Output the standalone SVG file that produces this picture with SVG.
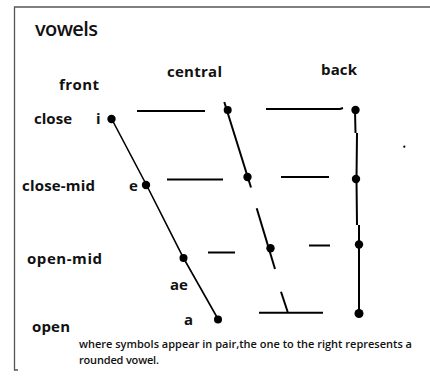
<svg xmlns="http://www.w3.org/2000/svg" width="430" height="376" viewBox="0 0 430 376">
<style>
text{font-family:"Open Sans","DejaVu Sans",sans-serif;fill:#111;}
.lbl{font-size:15px;font-weight:700;}
.sym{font-size:15px;font-weight:700;}
.note{font-size:11px;font-weight:600;}
.ln{stroke:#000;stroke-width:2;fill:none;stroke-linecap:butt;}
.thin{stroke:#000;stroke-width:1.6;fill:none;}
.dot{fill:#000;}
.frame{stroke:#555;stroke-width:1.3;fill:none;}
</style>
<rect width="430" height="376" fill="#fff"/>
<g id="frame">
<path class="frame" d="M430,7 H14.5 V370 H18"/>
</g>
<g id="titles">
<text x="35" y="36" style="font-size:20px;font-weight:600" textLength="63">vowels</text>
<text class="lbl" x="59" y="90" textLength="40">front</text>
<text class="lbl" x="167" y="77" textLength="55">central</text>
<text class="lbl" x="321" y="75" textLength="36">back</text>
<text class="lbl" x="34" y="124" textLength="38">close</text>
<text class="lbl" x="22" y="191" textLength="73">close-mid</text>
<text class="lbl" x="27" y="264" textLength="75">open-mid</text>
<text class="lbl" x="32" y="332" textLength="38">open</text>
<text class="sym" x="96" y="124">i</text>
<text class="sym" x="129" y="191">e</text>
<text class="sym" x="170" y="290">ae</text>
<text class="sym" x="184" y="325">a</text>
<text class="note" x="79" y="348" textLength="333">where symbols appear in pair,the one to the right represents a</text>
<text class="note" x="79" y="364" textLength="80">rounded vowel.</text>
</g>
<g id="connectors">
<path class="thin" d="M111.7,119 L146.5,185 L183.5,258 L218,319"/>
<path class="ln" d="M137,111 H205"/>
<path class="ln" d="M266,109 H340 L343,108"/>
<path class="ln" d="M167,179.5 H223"/>
<path class="ln" d="M281,177 H329"/>
<path class="ln" d="M208,252.5 H235"/>
<path class="ln" d="M309,245.5 H330"/>
<path class="ln" d="M259,312.7 H323"/>
<path class="ln" d="M224.3,102 L251,187.5"/>
<path class="ln" d="M256.7,208.3 L275,269"/>
<path class="ln" d="M281,291.7 L287.7,312"/>
<path class="ln" d="M355,110 L355.5,133 M357,133 L356.5,179 L357,225 M359,225 L359,313.5"/>
</g>
<g id="node-i"><circle class="dot" cx="111.5" cy="119" r="4.2"/></g>
<g id="node-e"><circle class="dot" cx="146" cy="185" r="4.2"/></g>
<g id="node-ae"><circle class="dot" cx="183.5" cy="258" r="4"/></g>
<g id="node-a"><circle class="dot" cx="218" cy="319.5" r="4"/></g>
<g id="node-central-close"><circle class="dot" cx="227.7" cy="110" r="4"/></g>
<g id="node-central-closemid"><circle class="dot" cx="247.5" cy="177" r="4.2"/></g>
<g id="node-central-openmid"><circle class="dot" cx="270.5" cy="248.3" r="4.2"/></g>
<g id="node-back-close"><circle class="dot" cx="355.5" cy="110" r="4.2"/></g>
<g id="node-back-closemid"><circle class="dot" cx="356" cy="179" r="4.2"/></g>
<g id="node-back-openmid"><circle class="dot" cx="359" cy="244.5" r="4.2"/></g>
<g id="node-back-open"><circle class="dot" cx="359" cy="313.5" r="4.5"/></g>
<g id="speck"><circle class="dot" cx="404.3" cy="146.7" r="1.1"/></g>
</svg>
